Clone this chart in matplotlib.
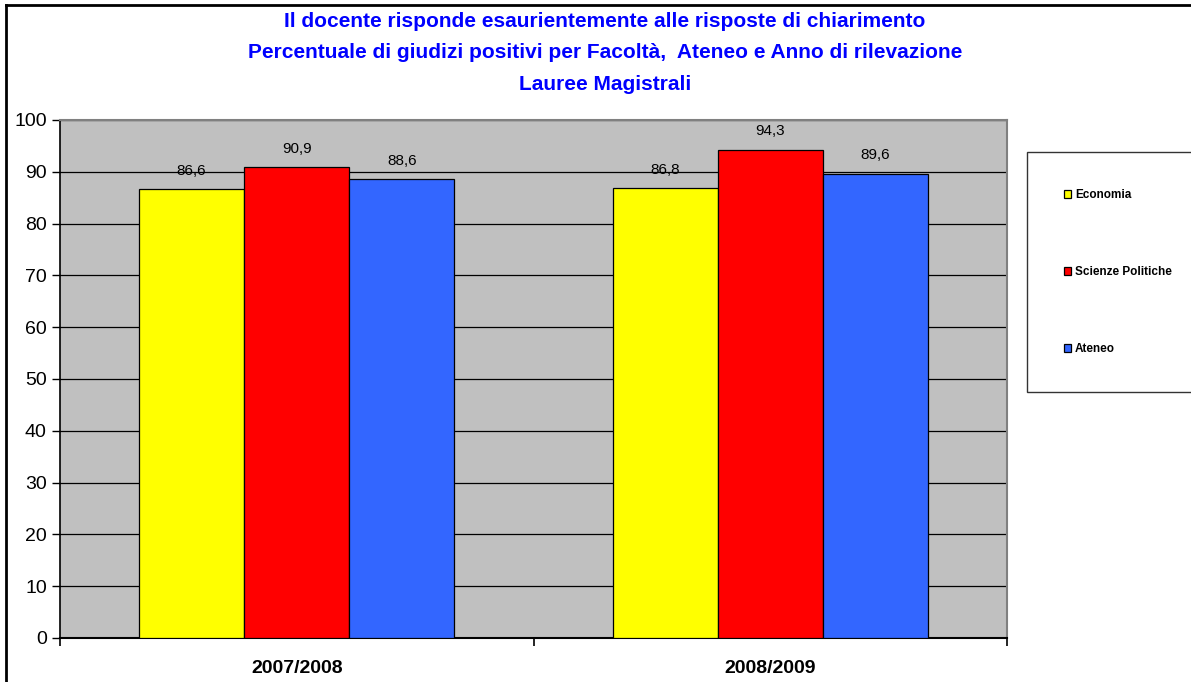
import matplotlib.pyplot as plt
import numpy as np
from matplotlib.lines import Line2D

# data
years = ["2007/2008", "2008/2009"]
series_names = ["Economia", "Scienze Politiche", "Ateneo"]
economia = [86.6, 86.8]
scienze_politiche = [90.9, 94.3]
ateneo = [88.6, 89.6]
yticks = list(range(0, 101, 10))

colors = ["#FFFF00", "#FF0000", "#3366FF"]
title = ("Il docente risponde esaurientemente alle risposte di chiarimento\n"
         "Percentuale di giudizi positivi per Facoltà,  Ateneo e Anno di rilevazione\n"
         "Lauree Magistrali")

plt.rcParams['font.family'] = ['Liberation Sans', 'DejaVu Sans']

W, H = 1191, 682
fig = plt.figure(figsize=(W / 100, H / 100), dpi=100)
ax = fig.add_axes([60 / W, 1 - 638 / H, (1007 - 60) / W, (638 - 120) / H])
ax.set_facecolor("#C0C0C0")

centers = np.arange(len(years)) + 0.5
bw = 0.222
values = [economia, scienze_politiche, ateneo]
for i, (name, vals) in enumerate(zip(series_names, values)):
    xs = centers + (i - 1) * bw
    ax.bar(xs, vals, width=bw, color=colors[i], edgecolor="black",
           linewidth=0.9, label=name, zorder=3)
    for x, v in zip(xs, vals):
        ax.text(x, v + 2.2, f"{v:.1f}".replace(".", ","), ha="center",
                va="bottom", fontsize=11, zorder=4)

ax.set_xlim(0, len(years))
ax.set_ylim(0, 100)
ax.set_yticks(yticks)
ax.set_yticklabels([str(t) for t in yticks], fontsize=14)
ax.yaxis.grid(True, color="black", linewidth=0.9, zorder=1)
ax.set_axisbelow(True)

ax.set_xticks(np.arange(len(years) + 1))
ax.set_xticklabels([])
ax.set_xticks(centers, minor=True)
ax.set_xticklabels(years, minor=True, fontsize=14, fontweight="bold")
ax.tick_params(axis="x", which="minor", length=0, pad=16)
ax.tick_params(axis="x", which="major", length=6, width=1.2, direction="out")
ax.tick_params(axis="y", length=6, width=1, direction="out")

for side in ["top", "right"]:
    ax.spines[side].set_color("#808080")
    ax.spines[side].set_linewidth(1.5)
ax.spines["left"].set_linewidth(1.2)
ax.spines["bottom"].set_linewidth(1.5)

fig.text(605 / W, 1 - 53 / H, title, ha="center", va="center", color="#0000FF",
         fontsize=15, fontweight="bold", linespacing=1.83)

leg = fig.legend(loc="upper left",
                 bbox_to_anchor=(1027 / W, 1 - 390 / H, (1195 - 1027) / W, (390 - 152) / H),
                 mode="expand", fontsize=8.5, frameon=True, fancybox=False,
                 handlelength=0.6, handleheight=0.6, handletextpad=0.3,
                 labelspacing=5.5, borderpad=3.15, borderaxespad=0)
leg.get_frame().set_edgecolor("black")
leg.get_frame().set_linewidth(1.0)
for t in leg.get_texts():
    t.set_fontweight("bold")

# outer chart border (only top and left visible in the reference)
fig.add_artist(Line2D([6 / W, 1], [1 - 5 / H, 1 - 5 / H], color="black", linewidth=2))
fig.add_artist(Line2D([6 / W, 6 / W], [0, 1 - 5 / H], color="black", linewidth=2))

fig.savefig("out.png", dpi=100)
